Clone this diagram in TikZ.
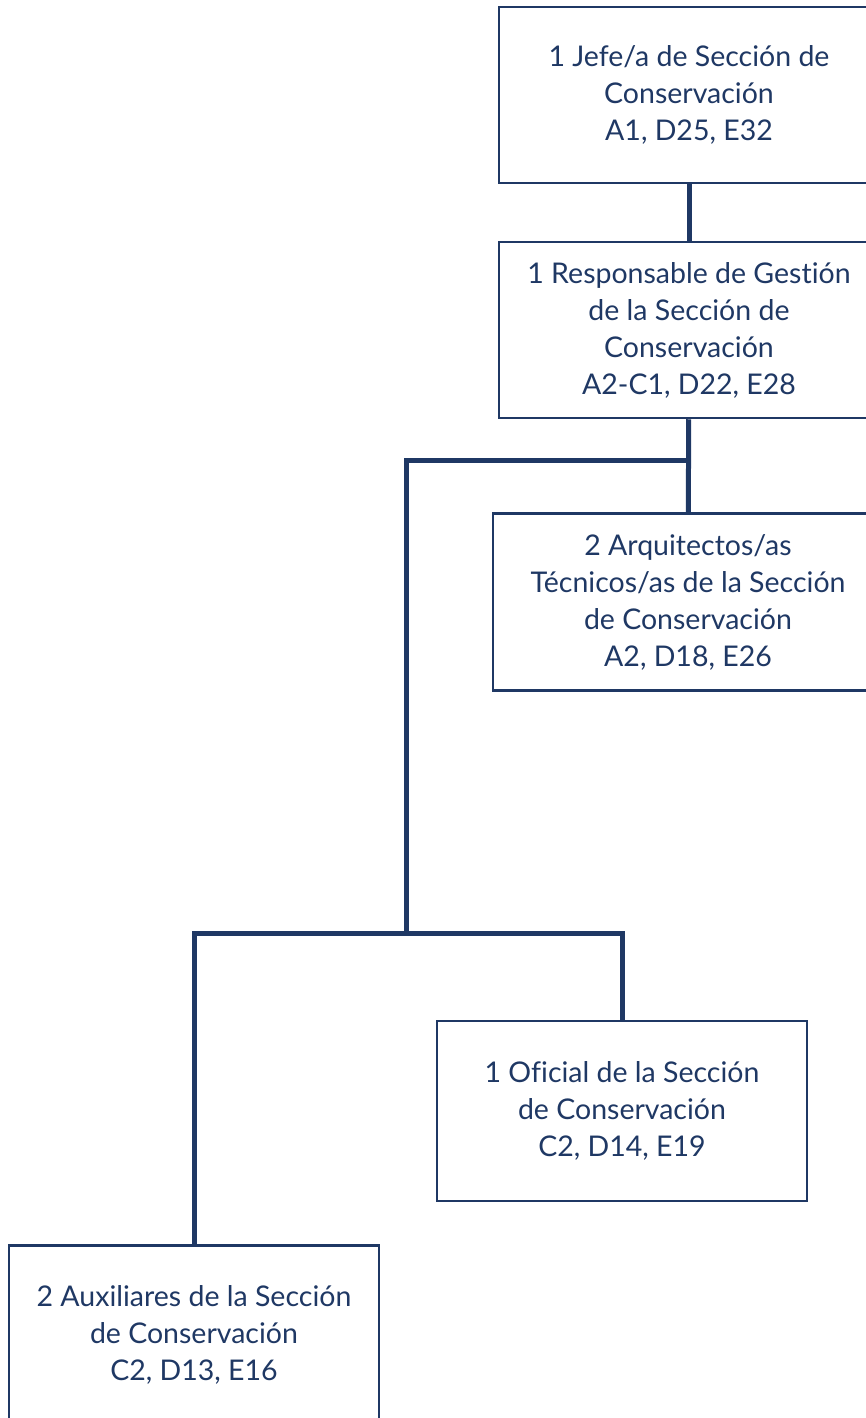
\documentclass[tikz,border=0pt]{standalone}
\usepackage{fontspec}
\setmainfont[Ligatures=NoCommon]{Lato}
\definecolor{navy}{HTML}{1F3864}

\begin{document}
\begin{tikzpicture}[x=1pt,y=-1pt,
  post/.style={draw=navy,line width=2.5pt,text=navy,align=center,minimum width=370pt,minimum height=176pt,
    font=\fontsize{28.5}{37}\selectfont},
  link/.style={draw=navy,line width=5pt}]
\path[use as bounding box,clip] (0,0) rectangle (866,1418);
\node[post,minimum width=380pt] (jefe) at (689,95) {1 Jefe/a de Sección de\\Conservación\\A1, D25, E32};
\node[post,minimum width=380pt] (gestion) at (689,330) {1 Responsable de Gestión\\de la Sección de\\Conservación\\A2-C1, D22, E28};
\node[post,minimum width=390pt,minimum height=177pt] (arquitectos) at (688,602) {2 Arquitectos/as\\Técnicos/as de la Sección\\de Conservación\\A2, D18, E26};
\node[post,minimum height=180pt] (oficial) at (622,1111) {1 Oficial de la Sección\\de Conservación\\C2, D14, E19};
\node[post,minimum height=180pt,anchor=north] (auxiliares) at (194,1244) {2 Auxiliares de la Sección\\de Conservación\\C2, D13, E16};
\coordinate (split1) at (gestion.south |- 0,460);
\coordinate (split2) at (406,933);
\draw[link] (jefe) -- (gestion);
\draw[link] (gestion) -- (arquitectos);
\draw[link] (split1) -| (split2);
\draw[link] (auxiliares.north) |- (split2) -| (oficial.north);
\end{tikzpicture}
\end{document}
